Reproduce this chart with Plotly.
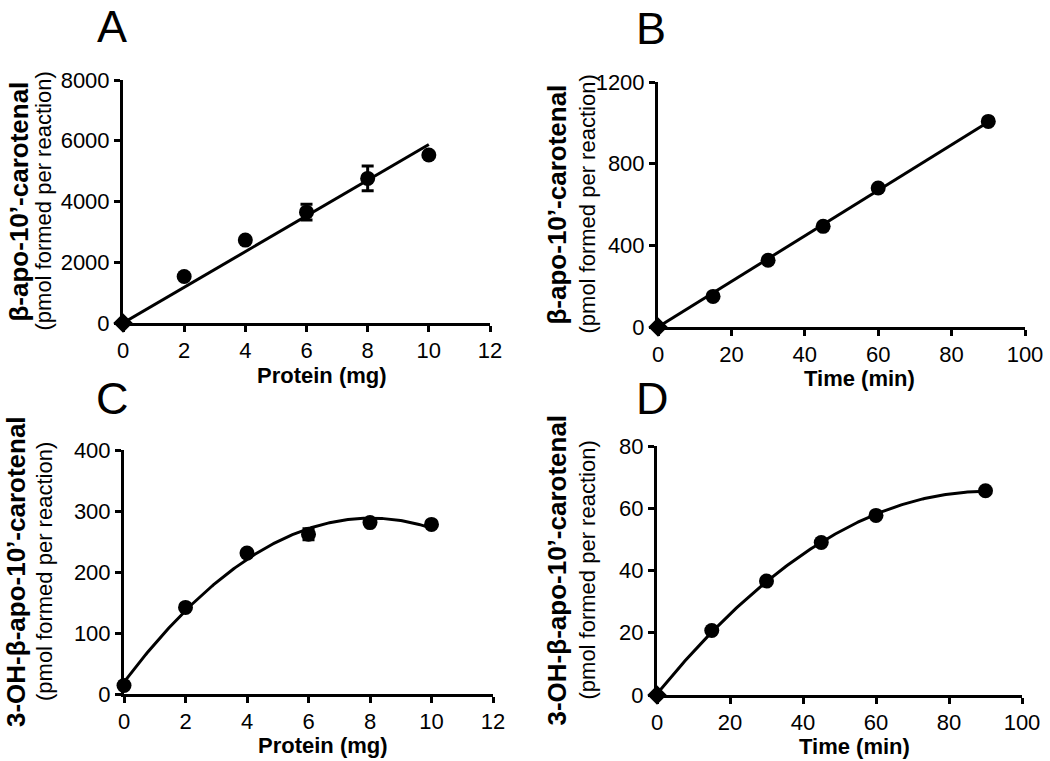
import numpy as np
import plotly.graph_objects as go

# ---------------- data ----------------
# Panel A: protein dependence, beta-apo-10'-carotenal
protein_mg = [0, 2, 4, 6, 8, 10]
apo10_protein = [0, 1530, 2730, 3650, 4760, 5530]
apo10_protein_err = [0, 0, 0, 260, 410, 0]

# Panel B: time course, beta-apo-10'-carotenal
time_min = [0, 15, 30, 45, 60, 90]
apo10_time = [0, 150, 327, 493, 681, 1007]

# Panel C: protein dependence, 3-OH-beta-apo-10'-carotenal
oh_apo10_protein = [14, 142, 231, 262, 281, 278]
oh_apo10_protein_err = [0, 0, 0, 9, 0, 0]

# Panel D: time course, 3-OH-beta-apo-10'-carotenal
oh_apo10_time = [0, 20.7, 36.6, 49.0, 57.7, 65.6]

# axis tick values
protein_ticks = [0, 2, 4, 6, 8, 10, 12]
time_ticks = [0, 20, 40, 60, 80, 100]
ticks_A = [0, 2000, 4000, 6000, 8000]
ticks_B = [0, 400, 800, 1200]
ticks_C = [0, 100, 200, 300, 400]
ticks_D = [0, 20, 40, 60, 80]

panel_letters = ["A", "B", "C", "D"]
x_titles = ["Protein (mg)", "Time (min)", "Protein (mg)", "Time (min)"]
y_title_main = ["β-apo-10’-carotenal", "β-apo-10’-carotenal",
                "3-OH-β-apo-10’-carotenal", "3-OH-β-apo-10’-carotenal"]
y_title_sub = "(pmol formed per reaction)"

# ---------------- layout helpers ----------------
W, H = 1050, 761
FONT = "Liberation Sans, Arial, Helvetica, sans-serif"


def px(x):
    return x / W


def py(y):
    return 1 - y / H


# plot-area rectangles in pixels: (left, top, right, bottom)
rects = [
    (123, 80, 490, 323),
    (658, 82, 1025, 327),
    (124, 450, 493, 694),
    (657, 446, 1022, 695),
]

fig = go.Figure()


def add_panel(i, x, y, err, fit_kind, xrng, yrng, xt, yt):
    xa = "x" if i == 0 else f"x{i+1}"
    ya = "y" if i == 0 else f"y{i+1}"
    xarr = np.array(x, dtype=float)
    yarr = np.array(y, dtype=float)
    # regression line computed from the data
    if fit_kind == "origin":
        slope = np.sum(xarr * yarr) / np.sum(xarr * xarr)
        fx = np.array([xarr.min(), xarr.max()])
        fy = slope * fx
    else:
        coef = np.polyfit(xarr, yarr, 2)
        fx = np.linspace(xarr.min(), xarr.max(), 200)
        fy = np.polyval(coef, fx)
    fig.add_trace(go.Scatter(x=fx, y=fy, mode="lines",
                             line=dict(color="black", width=3),
                             xaxis=xa, yaxis=ya, showlegend=False,
                             hoverinfo="skip", cliponaxis=False))
    symbols = ["diamond" if (a == 0 and b == 0) else "circle" for a, b in zip(x, y)]
    tr = dict(x=x, y=y, mode="markers",
              marker=dict(color="black", size=15, symbol=symbols,
                          opacity=1, line=dict(width=0)),
              xaxis=xa, yaxis=ya, showlegend=False, cliponaxis=False)
    if err is not None:
        tr["error_y"] = dict(type="data", array=err, visible=True,
                             color="black", thickness=3, width=6)
    fig.add_trace(go.Scatter(**tr))

    l, t, r, b = rects[i]
    axis_common = dict(showgrid=False, zeroline=False, showline=True,
                       linecolor="black", linewidth=3, ticks="outside",
                       ticklen=6, tickwidth=3, tickcolor="black",
                       tickfont=dict(family=FONT, size=22, color="black"),
                       automargin=False, fixedrange=True)
    fig.update_layout(**{
        ("xaxis" if i == 0 else f"xaxis{i+1}"): dict(
            domain=[px(l), px(r)], range=xrng, tickvals=xt,
            anchor=ya, **axis_common),
        ("yaxis" if i == 0 else f"yaxis{i+1}"): dict(
            domain=[py(b), py(t)], range=yrng, tickvals=yt,
            anchor=xa, **axis_common),
    })


add_panel(0, protein_mg, apo10_protein, apo10_protein_err, "origin",
          [0, 12], [0, 8000], protein_ticks, ticks_A)
add_panel(1, time_min, apo10_time, None, "origin",
          [0, 100], [0, 1200], time_ticks, ticks_B)
add_panel(2, protein_mg, oh_apo10_protein, oh_apo10_protein_err, "poly",
          [0, 12], [0, 400], protein_ticks, ticks_C)
add_panel(3, time_min, oh_apo10_time, None, "poly",
          [0, 100], [0, 80], time_ticks, ticks_D)

annotations = []
letter_pos = [(112, 0), (651, 2), (112, 372), (652, 372)]
xtitle_pos = [(322, 375), (859, 378), (323, 745), (854, 746)]
ytitle_main_x = [18, 557, 16, 556]
ytitle_sub_x = [43, 587, 44, 587]

for i in range(4):
    l, t, r, b = rects[i]
    cy = (t + b) / 2
    lx, ly = letter_pos[i]
    annotations.append(dict(text=panel_letters[i], x=px(lx), y=py(ly),
                            xref="paper", yref="paper", showarrow=False,
                            xanchor="center", yanchor="top", borderpad=0,
                            font=dict(family=FONT, size=45, color="black")))
    tx, ty = xtitle_pos[i]
    annotations.append(dict(text=f"<b>{x_titles[i]}</b>", x=px(tx), y=py(ty),
                            xref="paper", yref="paper", showarrow=False,
                            xanchor="center", yanchor="middle", borderpad=0,
                            font=dict(family=FONT, size=22, color="black")))
    annotations.append(dict(text=f"<b>{y_title_main[i]}</b>",
                            x=px(ytitle_main_x[i]), y=py(cy),
                            xref="paper", yref="paper", showarrow=False,
                            textangle=-90, xanchor="center", yanchor="middle",
                            font=dict(family=FONT, size=26, color="black")))
    annotations.append(dict(text=y_title_sub,
                            x=px(ytitle_sub_x[i]), y=py(cy),
                            xref="paper", yref="paper", showarrow=False,
                            textangle=-90, xanchor="center", yanchor="middle",
                            font=dict(family=FONT, size=22, color="black")))

fig.update_layout(width=W, height=H, margin=dict(l=0, r=0, t=0, b=0),
                  paper_bgcolor="white", plot_bgcolor="white",
                  annotations=annotations, showlegend=False,
                  font=dict(family=FONT, color="black"))

# remove the default page margin so the figure fills the window exactly
fig.write_html("out.html",
               config={"displayModeBar": False},
               post_script="document.body.style.margin='0';"
                           "document.body.style.padding='0';")
